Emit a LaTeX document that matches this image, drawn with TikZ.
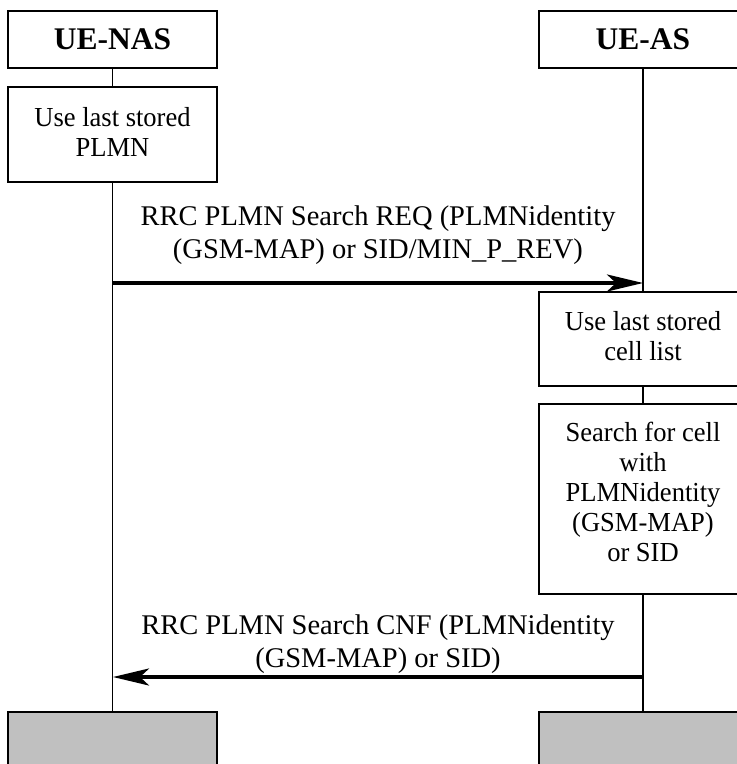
\documentclass[tikz,border=0pt]{standalone}
\usepackage{fontspec}
\setmainfont{Liberation Serif}
\newfontfamily\boxfont[FakeStretch=0.965]{Liberation Serif}
\usetikzlibrary{arrows.meta}
\begin{document}
\begin{tikzpicture}[x=1pt,y=-1pt,
  hdr/.style={draw,line width=2pt,minimum width=209pt,minimum height=57pt,inner sep=0pt,
    font=\fontsize{31.5}{36}\selectfont\bfseries},
  actbox/.style={draw,line width=2pt,minimum width=209pt,inner sep=0pt,align=center,
    text depth=6pt,font=\boxfont\fontsize{27.5}{30}\selectfont},
  endbox/.style={draw,line width=2pt,fill={rgb,255:red,192;green,192;blue,192},minimum width=209pt,minimum height=80pt,inner sep=0pt},
  life/.style={line width=1.6pt},
  msg/.style={line width=3.6pt,-{Stealth[length=36pt,width=17pt,inset=9pt]}},
  lbl/.style={align=center,inner sep=0pt,font=\fontsize{28.5}{33}\selectfont}]
\useasboundingbox (0,0) rectangle (737,764);
\clip (0,0) rectangle (737,764);
% headers
\node[hdr] (nas) at (112.5,39.5) {UE-NAS};
\node[hdr] (as) at (643,39.5) {UE-AS};
% end boxes
\node[endbox] (nasend) at (112.5,752) {};
\node[endbox] (asend) at (643,752) {};
% lifelines
\draw[life] (nas.south) -- (nasend.north);
\draw[life] (as.south) -- (asend.north);
% action boxes
\node[actbox,minimum height=95pt,fill=white] (b1) at (112.5,134.5) {Use last stored\\PLMN};
\node[actbox,minimum height=94pt,fill=white] (b2) at (643,339) {Use last stored\\cell list};
\node[actbox,minimum height=190pt,fill=white,text depth=14pt] (b3) at (643,499) {Search for cell\\with\\PLMNidentity\\(GSM-MAP)\\or SID};
% messages
\coordinate (m1s) at (113,283);
\coordinate (m1e) at (643,283);
\draw[msg] (m1s) -- (m1e);
\node[lbl,anchor=south] (l1) at (378,265) {RRC PLMN Search REQ (PLMNidentity\\(GSM-MAP) or SID/MIN\_P\_REV)};
\coordinate (m2s) at (643,677);
\coordinate (m2e) at (113,677);
\draw[msg] (m2s) -- (m2e);
\node[lbl,anchor=south] (l2) at (378,674) {RRC PLMN Search CNF (PLMNidentity\\(GSM-MAP) or SID)};
\end{tikzpicture}
\end{document}
